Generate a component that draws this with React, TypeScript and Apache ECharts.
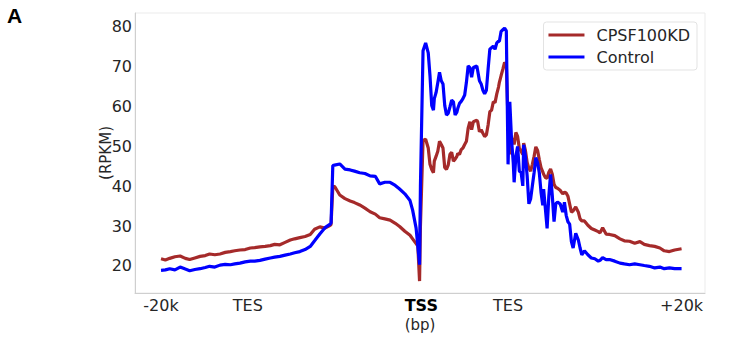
import React, { useEffect, useRef } from "react";
import * as echarts from "echarts";

// Metagene bins: 0 = -20k, 100 = upstream TES, 300 = TSS, 400 = TES, 600 = +20k
const positions = [
  0, 5, 10, 16, 22, 28, 33, 39, 45, 51, 56, 62, 68, 74, 80, 85, 91, 97, 103, 108,
  114, 120, 126, 131, 137, 143, 149, 154, 160, 166, 172, 177, 183, 189, 195, 196, 198, 200, 206, 212,
  218, 223, 229, 235, 241, 247, 252, 258, 264, 270, 275, 281, 287, 290, 294, 296, 298, 299, 302, 305,
  308, 310, 312, 314, 315, 317, 319, 321, 323, 325, 327, 329, 331, 333, 335, 337, 339, 341, 342, 344,
  346, 348, 350, 352, 354, 356, 358, 360, 364, 365, 367, 369, 371, 373, 375, 377, 379, 381, 383, 385,
  387, 389, 390, 392, 394, 396, 398, 400, 402, 404, 406, 407, 409, 411, 413, 415, 417, 418, 420, 422,
  424, 426, 428, 430, 432, 434, 436, 438, 440, 441, 443, 445, 447, 449, 451, 453, 455, 457, 460, 463,
  465, 467, 469, 471, 473, 475, 478, 481, 483, 485, 488, 492, 496, 500, 504, 506, 509, 513, 517, 523,
  529, 534, 540, 546, 552, 557, 563, 569, 575, 580, 586, 592, 600,
];

const cpsf100kd = [
  21.8, 21.5, 21.9, 22.3, 22.5, 21.9, 21.6, 22.0, 22.4, 22.6, 23.0, 22.8, 23.0, 23.4, 23.6, 23.8, 24.0, 24.1, 24.5, 24.6,
  24.8, 24.9, 25.1, 25.4, 25.3, 25.9, 26.5, 26.8, 27.1, 27.4, 27.9, 29.2, 29.8, 29.5, 30.2, 30.4, 39.8, 40.0, 37.8, 36.9,
  36.3, 35.9, 35.3, 34.5, 33.6, 33.0, 32.1, 31.8, 31.5, 30.7, 29.9, 28.7, 27.7, 26.8, 25.6, 25.0, 16.2, 30.0, 51.5, 51.8,
  49.6, 45.5, 44.2, 43.4, 46.3, 47.5, 48.8, 51.3, 50.5, 49.6, 44.7, 44.2, 45.3, 48.0, 48.5, 46.3, 46.8, 47.5, 48.2, 48.0,
  49.2, 49.6, 50.5, 51.3, 54.6, 56.2, 54.2, 56.2, 56.6, 56.2, 53.7, 54.2, 53.3, 52.5, 52.9, 55.4, 58.7, 59.1, 61.2, 61.0,
  63.2, 64.9, 66.1, 67.8, 69.4, 71.1, 70.5, 56.0, 48.0, 52.0, 51.7, 50.5, 53.5, 52.5, 49.5, 48.8, 48.0, 50.8, 49.0, 46.0,
  44.5, 43.8, 45.5, 47.5, 49.9, 49.0, 46.7, 44.7, 43.6, 43.0, 42.2, 42.0, 43.5, 44.3, 43.0, 40.5, 39.7, 39.5, 39.0, 38.1,
  38.5, 38.3, 37.5, 35.5, 33.5, 33.8, 34.8, 33.5, 31.8, 31.3, 31.3, 30.2, 29.4, 29.0, 28.6, 28.3, 29.6, 28.0, 27.9, 27.6,
  26.8, 26.3, 26.2, 25.7, 26.1, 25.4, 25.1, 24.9, 24.5, 23.8, 23.6, 24.0, 24.3,
];

const control = [
  18.9, 19.0, 19.3, 19.0, 19.7, 19.2, 18.8, 19.1, 19.3, 19.6, 19.9, 19.7, 20.2, 20.4, 20.3, 20.5, 20.7, 21.0, 21.2, 21.2,
  21.4, 21.7, 22.0, 22.2, 22.4, 22.7, 23.0, 23.3, 23.6, 24.1, 24.9, 26.3, 28.0, 29.6, 30.5, 30.8, 45.2, 45.3, 45.6, 44.3,
  44.1, 43.8, 43.4, 43.2, 42.6, 42.5, 40.6, 41.0, 41.0, 40.2, 39.3, 38.1, 36.4, 34.0, 29.5, 25.0, 20.3, 40.0, 74.0, 76.0,
  73.5, 67.8, 60.3, 59.1, 62.0, 63.5, 66.0, 68.6, 66.5, 65.7, 60.3, 57.9, 58.3, 59.9, 61.6, 61.2, 57.9, 58.6, 59.5, 60.8,
  61.3, 62.0, 62.9, 66.1, 70.2, 69.8, 67.4, 69.8, 70.2, 69.0, 66.5, 65.7, 64.1, 63.2, 64.1, 69.4, 74.4, 74.8, 75.2, 74.4,
  76.0, 76.4, 76.4, 78.9, 79.3, 79.7, 79.0, 45.5, 61.2, 51.7, 45.9, 41.0, 47.5, 50.0, 43.8, 43.5, 40.1, 50.4, 47.5, 42.6,
  35.6, 36.8, 40.1, 43.4, 47.2, 45.9, 43.4, 38.5, 35.2, 39.3, 34.4, 29.4, 37.6, 43.0, 37.6, 31.1, 35.6, 36.0, 35.6, 33.5,
  36.0, 32.7, 31.1, 30.5, 26.1, 24.5, 28.2, 26.5, 24.5, 22.8, 23.8, 22.8, 22.0, 21.8, 21.2, 21.4, 22.1, 21.6, 21.6, 21.2,
  20.7, 20.5, 20.3, 20.5, 20.3, 20.1, 19.9, 19.5, 19.7, 19.3, 19.5, 19.3, 19.3,
];

const xTickValues = [0, 100, 300, 400, 600];
const xTickLabels = ["-20k", "TES", "TSS", "TES", "+20k"];
const yTickValues = [20, 30, 40, 50, 60, 70, 80];

const FONT = "DejaVu Sans";
const TEXT = "#262626";

export default function App() {
  const ref = useRef<HTMLDivElement>(null);

  useEffect(() => {
    if (!ref.current) return;
    const chart = echarts.init(ref.current, undefined, { renderer: "svg" });

    const pair = (vals: number[]) => positions.map((x, i) => [x, vals[i]]);

    chart.setOption({
      animation: false,
      backgroundColor: "#ffffff",
      textStyle: { fontFamily: FONT },
      grid: {
        left: 135,
        right: 51,
        top: 13,
        bottom: 41,
        show: true,
        borderColor: "#ebebeb",
        borderWidth: 1,
      },
      graphic: [
        {
          type: "text",
          left: 7,
          top: 5,
          style: {
            text: "A",
            font: "bold 21px 'Liberation Sans'",
            fill: "#000000",
          },
        },
      ],
      legend: {
        orient: "vertical",
        right: 59,
        top: 22,
        data: ["CPSF100KD", "Control"],
        itemWidth: 36,
        itemHeight: 3,
        itemGap: 6,
        icon: "rect",
        padding: [5, 7, 5, 5],
        backgroundColor: "#ffffff",
        borderColor: "#e3e3e3",
        borderWidth: 1,
        borderRadius: 3,
        textStyle: {
          fontFamily: FONT,
          fontSize: 16,
          color: TEXT,
          padding: [0, 0, 0, 7],
        },
      },
      xAxis: {
        type: "value",
        min: -30,
        max: 627,
        name: "(bp)",
        nameLocation: "middle",
        nameGap: 24,
        nameMoveOverlap: false,
        nameTextStyle: { fontFamily: FONT, fontSize: 15, color: TEXT },
        axisLine: { show: true, onZero: false, lineStyle: { color: "#cfcfcf", width: 1 } },
        axisTick: { show: false },
        splitLine: { show: false },
        axisLabel: {
          customValues: xTickValues,
          margin: 4,
          fontFamily: FONT,
          fontSize: 16,
          color: TEXT,
          formatter: (v: number) => {
            const i = xTickValues.indexOf(Math.round(v));
            const t = i >= 0 ? xTickLabels[i] : "";
            return t === "TSS" ? "{b|TSS}" : t;
          },
          rich: {
            b: { fontFamily: FONT, fontSize: 16, fontWeight: "bold", color: "#000000" },
          },
        },
      },
      yAxis: {
        type: "value",
        min: 13.2,
        max: 83.5,
        name: "(RPKM)",
        nameLocation: "middle",
        nameGap: 22,
        nameMoveOverlap: false,
        nameRotate: 90,
        nameTextStyle: { fontFamily: FONT, fontSize: 15, color: TEXT },
        axisLine: { show: true, onZero: false, lineStyle: { color: "#cfcfcf", width: 1 } },
        axisTick: { show: false },
        splitLine: { show: false },
        axisLabel: {
          customValues: yTickValues,
          margin: 3,
          fontFamily: FONT,
          fontSize: 16,
          color: TEXT,
        },
      },
      series: [
        {
          name: "CPSF100KD",
          type: "line",
          data: pair(cpsf100kd),
          showSymbol: false,
          symbol: "none",
          itemStyle: { color: "#a52a2a" },
          lineStyle: { color: "#a52a2a", width: 3.2 },
        },
        {
          name: "Control",
          type: "line",
          data: pair(control),
          showSymbol: false,
          symbol: "none",
          itemStyle: { color: "#0000ff" },
          lineStyle: { color: "#0000ff", width: 3.2 },
        },
      ],
    });

    return () => chart.dispose();
  }, []);

  return (
    <div
      ref={ref}
      style={{ position: "fixed", left: 0, top: 0, width: 756, height: 337 }}
    />
  );
}
